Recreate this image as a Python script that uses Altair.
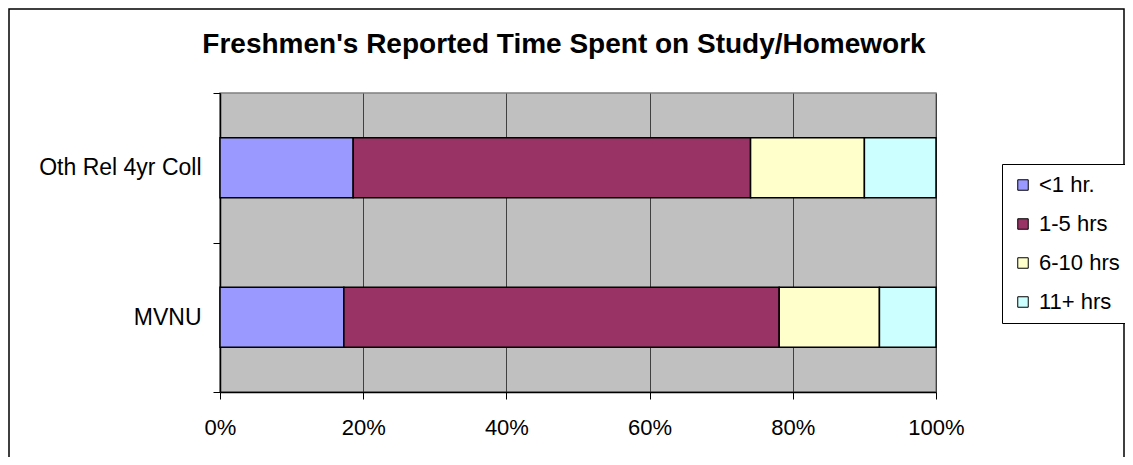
import altair as alt
import pandas as pd

groups = ["Oth Rel 4yr Coll", "MVNU"]
categories = ["<1 hr.", "1-5 hrs", "6-10 hrs", "11+ hrs"]
colors = ["#9999FF", "#993366", "#FFFFCC", "#CCFFFF"]
oth_rel = [18.6, 55.5, 15.9, 10.0]
mvnu = [17.3, 60.8, 14.0, 7.9]
title_text = "Freshmen's Reported Time Spent on Study/Homework"

rows = []
for g, vals in zip(groups, [oth_rel, mvnu]):
    for i, (c, v) in enumerate(zip(categories, vals)):
        rows.append({"group": g, "cat": c, "val": v / 100.0, "ord": i})
df = pd.DataFrame(rows)

FONT = "Liberation Sans"
FS = 22
W, H = 716, 299
PL, PT, PR, PB = 212, 85, 189, 65

bars = alt.Chart(df).mark_bar(size=60, stroke="black", strokeWidth=1.5).encode(
    x=alt.X("val:Q", stack="normalize",
            scale=alt.Scale(domain=[0, 1], nice=False),
            axis=alt.Axis(format="%", values=[0, 0.2, 0.4, 0.6, 0.8, 1.0],
                          title=None, grid=True, gridColor="#404040", gridWidth=1,
                          domainColor="#000000", tickColor="#000000", tickSize=7,
                          labelFont=FONT, labelFontSize=FS, labelColor="black",
                          labelPadding=18, labelFlush=False, domainWidth=1.5)),
    y=alt.Y("group:N", sort=groups,
            scale=alt.Scale(paddingInner=0, paddingOuter=0),
            axis=alt.Axis(title=None, tickBand="extent", tickSize=7, tickColor="#000000",
                          domainColor="#000000", domainWidth=1.5,
                          labelFont=FONT, labelFontSize=23, labelColor="black",
                          labelPadding=12, grid=False)),
    color=alt.Color("cat:N", sort=categories,
                    scale=alt.Scale(domain=categories, range=colors),
                    legend=alt.Legend(title=None, orient="none", legendX=782, legendY=71,
                                      symbolType="square", symbolSize=110,
                                      symbolStrokeColor="black", symbolStrokeWidth=1,
                                      labelFont=FONT, labelFontSize=FS, labelColor="black",
                                      rowPadding=17, padding=10, strokeColor="black",
                                      fillColor="white", labelOffset=5)),
    order=alt.Order("ord:Q"),
)

one = pd.DataFrame({"k": [0]})
border = alt.Chart(one).mark_rect(fill=None, stroke="black", strokeWidth=1.5).encode(
    x=alt.value(-PL + 1), x2=alt.value(W + PR - 1),
    y=alt.value(-PT + 1), y2=alt.value(H + PB + 5),
)

title = alt.Chart(one).mark_text(
    text=title_text, font=FONT, fontSize=28, fontWeight="bold", color="black",
    align="center", baseline="middle"
).encode(x=alt.value(W / 2 - 14), y=alt.value(-48))

chart = alt.layer(border, bars, title).properties(
    width=W, height=H,
    autosize=alt.AutoSizeParams(type="none"),
    padding={"left": PL, "top": PT, "right": PR, "bottom": PB},
).configure(
    background="white",
    view=alt.ViewConfig(fill="#C0C0C0", stroke="#808080", strokeWidth=1.5),
)

chart.save("out.html", embed_options={"renderer": "svg", "actions": False})
